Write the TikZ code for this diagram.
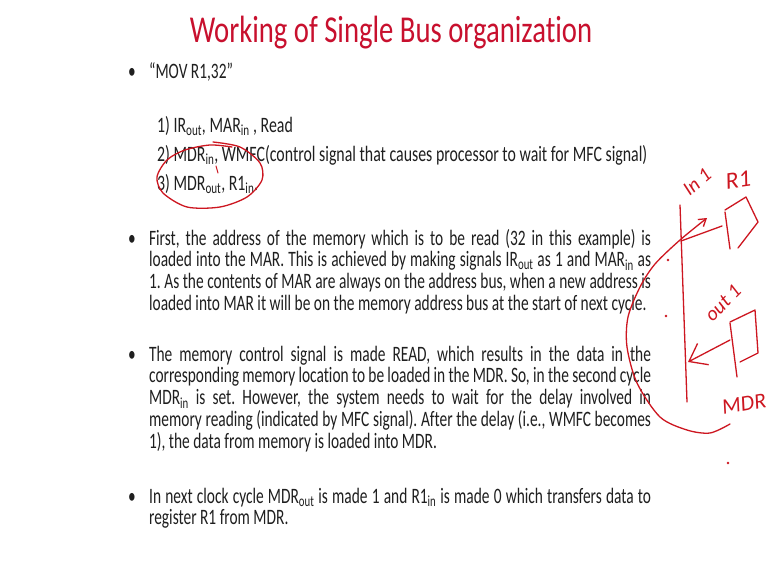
\documentclass[tikz,border=0pt]{standalone}
\usepackage{fontspec}
\setmainfont{Carlito}[Ligatures={NoCommon}]
\usetikzlibrary{arrows.meta}
\definecolor{titolo}{RGB}{200,16,46}
\definecolor{penna}{RGB}{205,22,32}
\frenchspacing
\begin{document}
\begin{tikzpicture}[x=1pt, y=-1pt, >={Straight Barb[length=7pt,width=9pt]},
    testo/.style={anchor=base west, inner sep=0pt, xscale=0.70, text=black!88, font=\fontsize{22}{21.8}\selectfont},
    paragrafo/.style={testo, text width=717pt, align=justify},
    tratto/.style={draw=penna, line width=1.3pt, line cap=round, line join=round},
    scritta/.style={text=penna, inner sep=0pt, font=\itshape\fontsize{20}{20}\selectfont}]

        % Sfondo della slide
        \path[use as bounding box, fill=white] (0,0) rectangle (767,578);

        % Titolo
        \node[text=titolo, xscale=0.755, font=\fontsize{38}{38}\selectfont] (titolo) at (391,33) {Working of Single Bus organization};

        % Istruzione e passi
        \node[testo] (b1) at (128,78) {•};
        \node[testo] (mov) at (149,78) {“MOV R1,32”};
        \node[testo, xscale=1.03] (passo1) at (157,132) {1) IR\textsubscript{out}, MAR\textsubscript{in} , Read};
        \node[testo, xscale=1.03] (passo2) at (157,161) {2) MDR\textsubscript{in}, WMFC(control signal that causes processor to wait for MFC signal)};
        \node[testo, xscale=1.03] (passo3) at (157,190) {3) MDR\textsubscript{out}, R1\textsubscript{in}.};

        % Primo paragrafo
        \node[testo] (b2) at (128,245) {•};
        \node[paragrafo] (par1) at (149,245) {First, the address of the memory which is to be read (32 in this example) is\linebreak
            loaded into the MAR. This is achieved by making signals IR\textsubscript{out} as 1 and MAR\textsubscript{in} as\linebreak
            1. As the contents of MAR are always on the address bus, when a new address is\linebreak
            loaded into MAR it will be on the memory address bus at the start of next cycle.};

        % Secondo paragrafo
        \node[testo] (b3) at (128,361) {•};
        \node[paragrafo] (par2) at (149,361) {The memory control signal is made READ, which results in the data in the\linebreak
            corresponding memory location to be loaded in the MDR. So, in the second cycle\linebreak
            MDR\textsubscript{in} is set. However, the system needs to wait for the delay involved in\linebreak
            memory reading (indicated by MFC signal). After the delay (i.e., WMFC becomes\linebreak
            1), the data from memory is loaded into MDR.};

        % Terzo paragrafo
        \node[testo] (b4) at (128,503) {•};
        \node[paragrafo] (par3) at (149,503) {In next clock cycle MDR\textsubscript{out} is made 1 and R1\textsubscript{in} is made 0 which transfers data to\linebreak
            register R1 from MDR.};

        % Cerchio a mano attorno al passo 3
        \draw[tratto] plot[smooth] coordinates {(213,142) (240,147) (260,163) (262,180) (247,197) (220,207) (187,207) (163,193) (157,177) (167,160) (185,150) (210,145) (232,147)};
        \draw[tratto, line width=1pt] (216,166) -- (218,173);

        % Coordinate dello schizzo
        \coordinate (busA) at (680,205); % Inizio bus
        \coordinate (busB) at (687,402); % Fine bus
        \coordinate (R1) at (722,226);   % Lato del registro R1
        \coordinate (MDR) at (730,340);  % Lato del registro MDR

        % Bus e registri
        \draw[tratto] (busA) -- (busB);
        \draw[tratto] (725,212) -- (730,249);
        \draw[tratto] (725,210) -- (746,197) -- (758,222) -- (738,248);
        \draw[tratto] (R1) -- (681,241);
        \draw[tratto] (730,323) -- (737,377);
        \draw[tratto] (730,322) -- (755,310) -- (758,353) -- (740,362);

        % Frecce
        \draw[tratto, -{Straight Barb[length=16pt,width=24pt]}] (MDR) -- (688,362);
        \draw[tratto, ->] plot[smooth] coordinates {(730,424) (710,433) (687,430) (660,417) (637,383) (627,347) (628,317) (640,287) (655,264) (680,240) (707,218)};

        % Scritte a mano
        \node[scritta, rotate=40] (in1) at (697,182) {In 1};
        \node[scritta, rotate=8, font=\itshape\fontsize{24}{24}\selectfont] (nomeR1) at (738,180) {R1};
        \node[scritta, rotate=45] (out1) at (723,303) {out 1};
        \node[scritta, rotate=10, font=\itshape\fontsize{22}{22}\selectfont] (nomeMDR) at (744,404) {MDR};

        % Puntini
        \fill[penna] (668,260) circle (1.3);
        \fill[penna] (666,316) circle (1.3);
        \fill[penna] (728,463) circle (1.3);

    \end{tikzpicture}
\end{document}
